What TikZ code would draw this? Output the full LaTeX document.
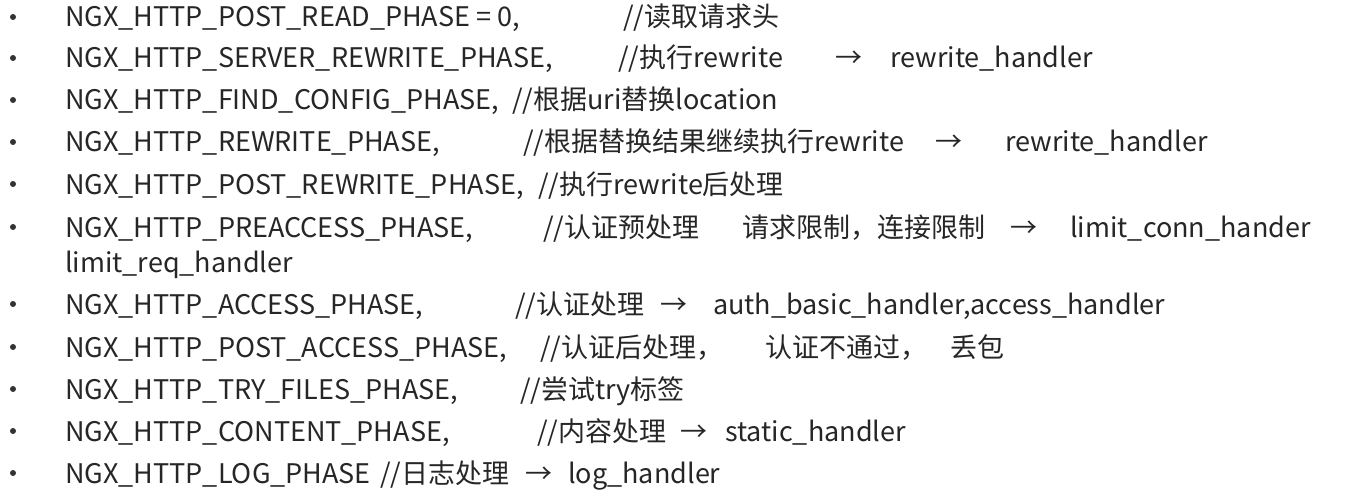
\documentclass[tikz,border=0pt]{standalone}
\usepackage{fontspec}
\setmainfont{Noto Sans CJK SC}
\tikzset{
  line/.style={anchor=base west,inner sep=0pt,font=\fontsize{27}{30}\selectfont,text=black!85},
  dot/.style={circle,fill=black!80,inner sep=0pt,minimum size=6pt}
}
\begin{document}
\begin{tikzpicture}[x=1pt,y=-1pt]
\useasboundingbox[fill=white] (0,0) rectangle (1363,500);
% bullets
\foreach \yy [count=\i] in {17,58,100,142,184,227,304,347,389,431,473}
  \node[dot] (b\i) at (13,\yy) {};
% rows
\node[line] (p1) at (65,27) {NGX\_HTTP\_POST\_READ\_PHASE = 0,};
\node[line] (c1) at (623,27) {//读取请求头};
\node[line] (p2) at (65,68) {NGX\_HTTP\_SERVER\_REWRITE\_PHASE,};
\node[line] (c2) at (618,68) {//执行rewrite};
\node[line] (a2) at (835,68) {→};
\node[line] (h2) at (890,68) {rewrite\_handler};
\node[line] (p3) at (65,110) {NGX\_HTTP\_FIND\_CONFIG\_PHASE,};
\node[line] (c3) at (512,110) {//根据uri替换location};
\node[line] (p4) at (65,152) {NGX\_HTTP\_REWRITE\_PHASE,};
\node[line] (c4) at (523,152) {//根据替换结果继续执行rewrite};
\node[line] (a4) at (935,152) {→};
\node[line] (h4) at (1005,152) {rewrite\_handler};
\node[line] (p5) at (65,194) {NGX\_HTTP\_POST\_REWRITE\_PHASE,};
\node[line] (c5) at (538,194) {//执行rewrite后处理};
\node[line] (p6) at (65,237) {NGX\_HTTP\_PREACCESS\_PHASE,};
\node[line] (c6) at (543,237) {//认证预处理};
\node[line] (d6) at (742,237) {请求限制，连接限制};
\node[line] (a6) at (1010,237) {→};
\node[line] (h6) at (1070,237) {limit\_conn\_hander};
\node[line] (q6) at (65,272) {limit\_req\_handler};
\node[line] (p7) at (65,314) {NGX\_HTTP\_ACCESS\_PHASE,};
\node[line] (c7) at (515,314) {//认证处理};
\node[line] (a7) at (660,314) {→};
\node[line] (h7) at (713,314) {auth\_basic\_handler,access\_handler};
\node[line] (p8) at (65,357) {NGX\_HTTP\_POST\_ACCESS\_PHASE,};
\node[line] (c8) at (540,357) {//认证后处理，};
\node[line] (d8) at (765,357) {认证不通过，};
\node[line] (e8) at (950,357) {丢包};
\node[line] (p9) at (65,399) {NGX\_HTTP\_TRY\_FILES\_PHASE,};
\node[line] (c9) at (520,399) {//尝试try标签};
\node[line] (p10) at (65,441) {NGX\_HTTP\_CONTENT\_PHASE,};
\node[line] (c10) at (537,441) {//内容处理};
\node[line] (a10) at (680,441) {→};
\node[line] (h10) at (725,441) {static\_handler};
\node[line] (p11) at (65,483) {NGX\_HTTP\_LOG\_PHASE};
\node[line] (c11) at (380,483) {//日志处理};
\node[line] (a11) at (525,483) {→};
\node[line] (h11) at (568,483) {log\_handler};
\end{tikzpicture}
\end{document}
